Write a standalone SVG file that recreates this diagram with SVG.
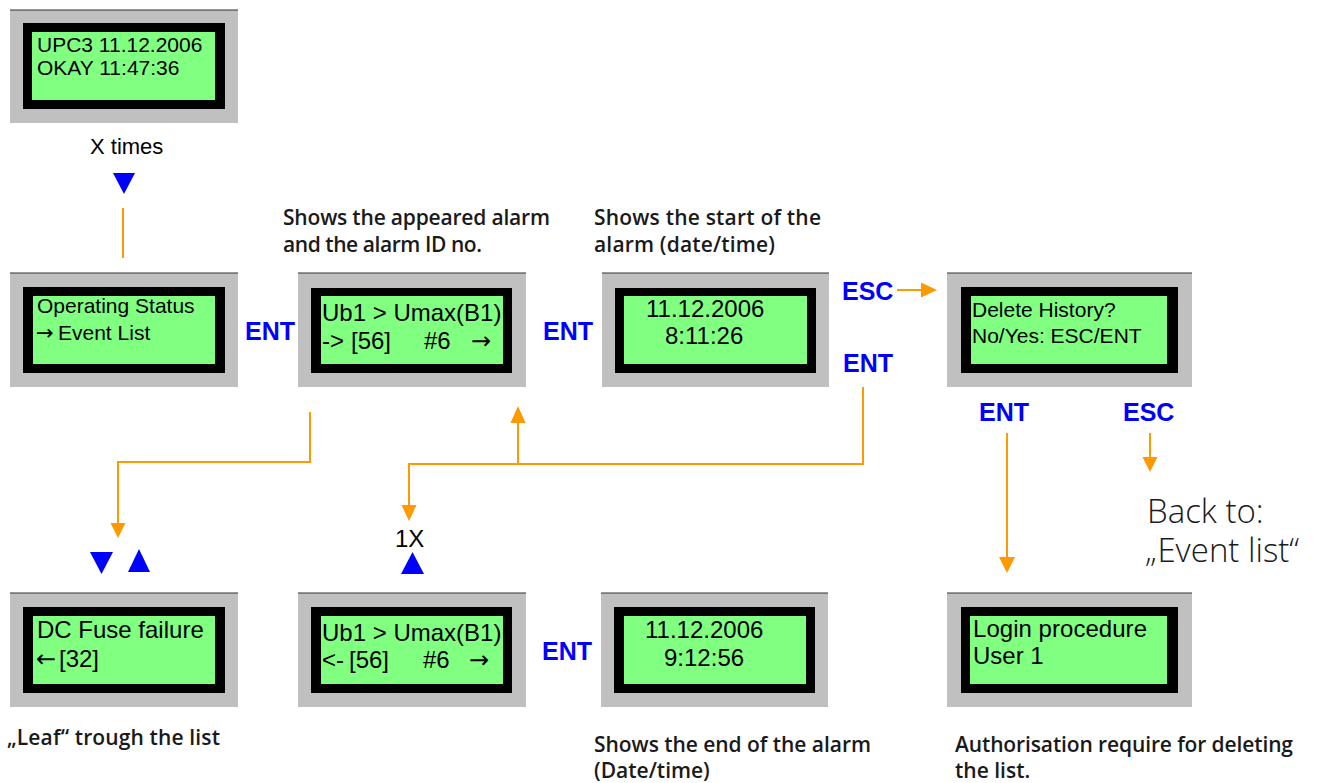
<svg xmlns="http://www.w3.org/2000/svg" width="1325" height="783" viewBox="0 0 1325 783">
<style>
.bezel{fill:#c0c0c0}
.edge{stroke:#333;stroke-width:1.2}
.frame{fill:#000}
.lcd{fill:#80ff80}
.t{font-family:"Liberation Sans",Arial,sans-serif;fill:#000}
.arr{font-family:"DejaVu Sans",sans-serif}
.key{font-family:"Liberation Sans",Arial,sans-serif;font-weight:bold;font-size:25px;fill:#0000ff}
.note{font-family:"Open Sans","Noto Sans",sans-serif;font-weight:600;font-size:21px;fill:#1a1a1a}
.back{font-family:"Open Sans","Noto Sans",sans-serif;font-weight:300;font-size:33px;fill:#1a1a1a}
.wire{fill:none;stroke:#ff9900;stroke-width:2}
.head{fill:#ff9900}
.tri{fill:#0000ff}
</style>
<rect width="1325" height="783" fill="#fff"/>

<g id="node-home">
<rect class="bezel" x="10" y="10" width="228" height="113"/>
<line class="edge" x1="10" y1="10" x2="238" y2="10"/>
<rect class="frame" x="23" y="23" width="202" height="86"/>
<rect class="lcd" x="32" y="32" width="183" height="68"/>
<text class="t" font-size="21" x="37" y="52">UPC3 11.12.2006</text>
<text class="t" font-size="21" x="37" y="75">OKAY 11:47:36</text>
</g>

<g id="node-status">
<rect class="bezel" x="10" y="273" width="228" height="114"/>
<line class="edge" x1="10" y1="273" x2="238" y2="273"/>
<rect class="frame" x="23" y="287" width="202" height="86"/>
<rect class="lcd" x="33" y="296" width="182" height="68"/>
<text class="t" font-size="21" x="37" y="313">Operating Status</text>
<text class="t" font-size="21" y="340"><tspan class="arr" x="36">→</tspan><tspan x="58">Event List</tspan></text>
</g>

<g id="node-alarm">
<rect class="bezel" x="298" y="273" width="228" height="114"/>
<line class="edge" x1="298" y1="273" x2="526" y2="273"/>
<rect class="frame" x="311" y="288" width="201" height="85"/>
<rect class="lcd" x="321" y="296" width="182" height="68"/>
<text class="t" font-size="24" x="322" y="321">Ub1 &gt; Umax(B1)</text>
<text class="t" font-size="24" y="349"><tspan x="322">-&gt;</tspan><tspan x="351">[56]</tspan><tspan x="424">#6</tspan><tspan class="arr" x="471">→</tspan></text>
</g>

<g id="node-start">
<rect class="bezel" x="602" y="273" width="227" height="114"/>
<line class="edge" x1="602" y1="273" x2="829" y2="273"/>
<rect class="frame" x="615" y="288" width="201" height="85"/>
<rect class="lcd" x="624" y="296" width="183" height="68"/>
<text class="t" font-size="24" x="646" y="317">11.12.2006</text>
<text class="t" font-size="24" x="665" y="344">8:11:26</text>
</g>

<g id="node-delete">
<rect class="bezel" x="947" y="273" width="245" height="114"/>
<line class="edge" x1="947" y1="273" x2="1192" y2="273"/>
<rect class="frame" x="961" y="287" width="217" height="86"/>
<rect class="lcd" x="971" y="296" width="196" height="68"/>
<text class="t" font-size="21" x="972" y="317">Delete History?</text>
<text class="t" font-size="21" x="972" y="343">No/Yes: ESC/ENT</text>
</g>

<g id="node-fuse">
<rect class="bezel" x="10" y="593" width="228" height="114"/>
<line class="edge" x1="10" y1="593" x2="238" y2="593"/>
<rect class="frame" x="23" y="607" width="202" height="86"/>
<rect class="lcd" x="33" y="616" width="182" height="68"/>
<text class="t" font-size="24" x="37" y="638">DC Fuse failure</text>
<text class="t" font-size="24" y="667"><tspan class="arr" x="36">←</tspan><tspan x="59">[32]</tspan></text>
</g>

<g id="node-alarm-back">
<rect class="bezel" x="298" y="593" width="228" height="114"/>
<line class="edge" x1="298" y1="593" x2="526" y2="593"/>
<rect class="frame" x="311" y="607" width="201" height="86"/>
<rect class="lcd" x="321" y="616" width="182" height="68"/>
<text class="t" font-size="24" x="322" y="641">Ub1 &gt; Umax(B1)</text>
<text class="t" font-size="24" y="668"><tspan x="322">&lt;-</tspan><tspan x="349">[56]</tspan><tspan x="423">#6</tspan><tspan class="arr" x="469">→</tspan></text>
</g>

<g id="node-end">
<rect class="bezel" x="601" y="593" width="227" height="114"/>
<line class="edge" x1="601" y1="593" x2="828" y2="593"/>
<rect class="frame" x="614" y="607" width="201" height="86"/>
<rect class="lcd" x="624" y="616" width="182" height="68"/>
<text class="t" font-size="24" x="645" y="638">11.12.2006</text>
<text class="t" font-size="24" x="664" y="666">9:12:56</text>
</g>

<g id="node-login">
<rect class="bezel" x="947" y="593" width="245" height="114"/>
<line class="edge" x1="947" y1="593" x2="1192" y2="593"/>
<rect class="frame" x="961" y="607" width="217" height="86"/>
<rect class="lcd" x="970" y="616" width="197" height="68"/>
<text class="t" font-size="24" x="973" y="637" textLength="174">Login procedure</text>
<text class="t" font-size="24" x="973" y="664">User 1</text>
</g>

<g id="labels">
<text class="t" font-size="22" x="90" y="154">X times</text>
<text class="t" font-size="24" x="395" y="547">1X</text>
<text class="key" x="245" y="340">ENT</text>
<text class="key" x="543" y="340">ENT</text>
<text class="key" x="842" y="300">ESC</text>
<text class="key" x="843" y="372">ENT</text>
<text class="key" x="979" y="421">ENT</text>
<text class="key" x="1123" y="421">ESC</text>
<text class="key" x="542" y="660">ENT</text>
<text class="note" x="283" y="225" textLength="267">Shows the appeared alarm</text>
<text class="note" x="283" y="252" textLength="199">and the alarm ID no.</text>
<text class="note" x="594" y="225" textLength="227">Shows the start of the</text>
<text class="note" x="594" y="252" textLength="181">alarm (date/time)</text>
<text class="note" x="7" y="745" textLength="213">„Leaf“ trough the list</text>
<text class="note" x="594" y="752" textLength="277">Shows the end of the alarm</text>
<text class="note" x="594" y="778">(Date/time)</text>
<text class="note" x="955" y="752" textLength="338">Authorisation require for deleting</text>
<text class="note" x="955" y="778">the list.</text>
<text class="back" x="1147" y="523">Back to:</text>
<text class="back" x="1145" y="562">„Event list“</text>
</g>

<g id="connectors">
<polygon class="tri" points="113,173 135,173 124,194"/>
<line class="wire" x1="123" y1="208" x2="123" y2="258"/>
<polyline class="wire" points="310,412 310,462 118,462 118,524"/>
<polygon class="head" points="110.5,523 125.5,523 118,538"/>
<polygon class="tri" points="90,552 113,552 101.5,574"/>
<polygon class="tri" points="128,572 150,572 139,549"/>
<polyline class="wire" points="863,387 863,464 409,464 409,506"/>
<polygon class="head" points="401.5,505 416.5,505 409,521"/>
<line class="wire" x1="518" y1="464" x2="518" y2="422"/>
<polygon class="head" points="510.5,423 525.5,423 518,406"/>
<polygon class="tri" points="401,574 424,574 412.5,552"/>
<line class="wire" x1="897" y1="290" x2="922" y2="290"/>
<polygon class="head" points="921,282.5 921,297.5 937,290"/>
<line class="wire" x1="1007" y1="433" x2="1007" y2="558"/>
<polygon class="head" points="999,557 1015,557 1007,573"/>
<line class="wire" x1="1150" y1="433" x2="1150" y2="458"/>
<polygon class="head" points="1142.5,457 1157.5,457 1150,472"/>
</g>
</svg>
